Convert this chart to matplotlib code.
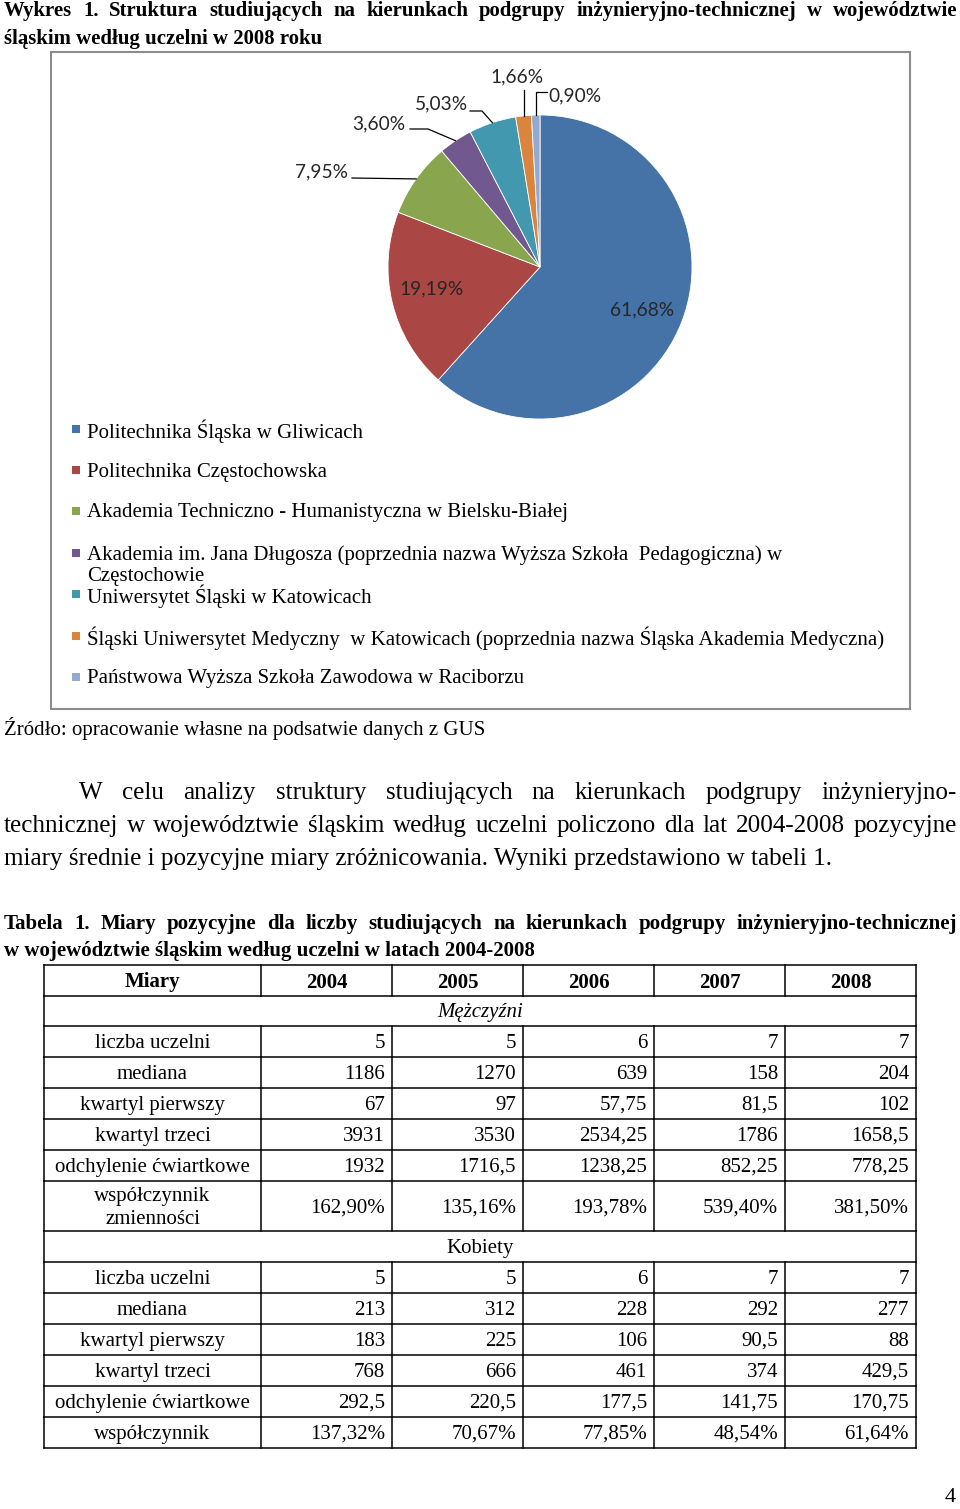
import matplotlib
matplotlib.use('Agg')
import matplotlib.pyplot as plt
from matplotlib.patches import Rectangle
import numpy as np

W, H = 960, 1509
SERIF = 'Liberation Serif'
SANS = 'Lato'
DY = 2  # small downward nudge so va='center' matches the visual text centre

# pie: structure of students by university, 2008 (%)
UCZELNIE = [
    'Politechnika Śląska w Gliwicach',
    'Politechnika Częstochowska',
    'Akademia Techniczno - Humanistyczna w Bielsku-Białej',
    'Akademia im. Jana Długosza (poprzednia nazwa Wyższa Szkoła  Pedagogiczna) w\nCzęstochowie',
    'Uniwersytet Śląski w Katowicach',
    'Śląski Uniwersytet Medyczny  w Katowicach (poprzednia nazwa Śląska Akademia Medyczna)',
    'Państwowa Wyższa Szkoła Zawodowa w Raciborzu',
]
UDZIALY = [61.68, 19.19, 7.95, 3.60, 5.03, 1.66, 0.90]
COLORS = ['#4572A7', '#AA4643', '#89A54E', '#71588F', '#4198AF', '#DB843D', '#93A9CF']

# table 1
LATA = ['2004', '2005', '2006', '2007', '2008']
MIARY_M = ['liczba uczelni', 'mediana', 'kwartyl pierwszy', 'kwartyl trzeci',
           'odchylenie ćwiartkowe', 'współczynnik\nzmienności']
MIARY_K = ['liczba uczelni', 'mediana', 'kwartyl pierwszy', 'kwartyl trzeci',
           'odchylenie ćwiartkowe', 'współczynnik']
liczba_m = [5, 5, 6, 7, 7]
mediana_m = [1186, 1270, 639, 158, 204]
q1_m = [67, 97, 57.75, 81.5, 102]
q3_m = [3931, 3530, 2534.25, 1786, 1658.5]
odch_m = [1932, 1716.5, 1238.25, 852.25, 778.25]
wsp_m = [162.90, 135.16, 193.78, 539.40, 381.50]
liczba_k = [5, 5, 6, 7, 7]
mediana_k = [213, 312, 228, 292, 277]
q1_k = [183, 225, 106, 90.5, 88]
q3_k = [768, 666, 461, 374, 429.5]
odch_k = [292.5, 220.5, 177.5, 141.75, 170.75]
wsp_k = [137.32, 70.67, 77.85, 48.54, 61.64]


def num(v):
    return f"{v:g}".replace('.', ',')


def pct(v):
    return f"{v:.2f}%".replace('.', ',')


fig = plt.figure(figsize=(W / 100, H / 100), dpi=100)
ax = fig.add_axes([0, 0, 1, 1], zorder=2)
ax.set_xlim(0, W)
ax.set_ylim(H, 0)
ax.axis('off')
ax.patch.set_visible(False)
R = fig.canvas.get_renderer()


def fit(t, width):
    w = t.get_window_extent(R).width
    t.set_fontsize(t.get_fontsize() * width / w)
    return t.get_fontsize()


def justify(words, y, x0, x1, size, **kw):
    texts = [ax.text(0, y + DY, w, fontsize=size, va='center', ha='left', family=SERIF, **kw)
             for w in words.split()]
    widths = [t.get_window_extent(R).width for t in texts]
    gap = (x1 - x0 - sum(widths)) / (len(texts) - 1)
    x = x0
    for t, w in zip(texts, widths):
        t.set_x(x)
        x += w + gap


# title
t = ax.text(4, 37 + DY, 'śląskim według uczelni w 2008 roku', fontsize=14, weight='bold',
            family=SERIF, va='center')
fs = fit(t, 319)
justify('Wykres 1. Struktura studiujących na kierunkach podgrupy inżynieryjno-technicznej w województwie',
        9, 4, 957, fs, weight='bold')

# chart frame
ax.add_patch(Rectangle((51, 52), 859, 657, fill=False, edgecolor='#8c8c8c', lw=1.5))

# pie
CX, CY, RAD = 540, 267, 152
pax = fig.add_axes([(CX - RAD) / W, 1 - (CY + RAD) / H, 2 * RAD / W, 2 * RAD / H], zorder=1)
pax.pie(UDZIALY, colors=COLORS, startangle=90, counterclock=False,
        wedgeprops=dict(edgecolor='white', linewidth=0.6))
pax.set_xlim(-1, 1)
pax.set_ylim(-1, 1)
pax.axis('off')

total = sum(UDZIALY)
cum = np.cumsum([0] + UDZIALY[:-1])
anchors = []
for c, v in zip(cum, UDZIALY):
    th = np.deg2rad(90 - 360 * (c + v / 2) / total)
    anchors.append((CX + RAD * np.cos(th), CY - RAD * np.sin(th)))

t = ax.text(642, 310, pct(UDZIALY[0]), family=SANS, fontsize=12, ha='center', va='center',
            color='#262626')
lfs = fit(t, 64)
label_pos = [(642, 310), (432, 289), (322, 172), (379, 124), (441, 104), (517, 77), (575, 96)]
for i, (x, y) in enumerate(label_pos[1:], start=1):
    ax.text(x, y, pct(UDZIALY[i]), family=SANS, fontsize=lfs, ha='center', va='center',
            color='#262626')

ax_, ay_ = anchors[2]
ax.plot([352, ax_], [178, ay_], color='black', lw=0.9)
ax_, ay_ = anchors[3]
ax.plot([410, 428, ax_], [129, 129, ay_], color='black', lw=0.9)
ax_, ay_ = anchors[4]
ax.plot([470, 482, ax_], [111, 111, ay_], color='black', lw=0.9)
ax_, ay_ = anchors[5]
ax.plot([ax_, ax_], [90, ay_], color='black', lw=0.9)
ax_, ay_ = anchors[6]
ax.plot([547, ax_, ax_], [92, 92, ay_], color='black', lw=0.9)

# legend
leg_y = [429, 470, 511, 553, 594, 636, 677]
t = ax.text(87, leg_y[5] + DY, UCZELNIE[5], family=SERIF, fontsize=15, va='center')
gfs = fit(t, 800)
for i, (name, y) in enumerate(zip(UCZELNIE, leg_y)):
    ax.add_patch(Rectangle((72, y - 4), 8, 8, color=COLORS[i], lw=0))
    if i == 5:
        continue
    for k, line in enumerate(name.split('\n')):
        ax.text(87, y + DY + 22 * k, line, family=SERIF, fontsize=gfs, va='center')

# source
t = ax.text(4, 726 + DY, 'Źródło: opracowanie własne na podsatwie danych z GUS', family=SERIF,
            fontsize=15, va='center')
fit(t, 482)

# paragraph
t = ax.text(4, 857 + DY, 'miary średnie i pozycyjne miary zróżnicowania. Wyniki przedstawiono w tabeli 1.',
            family=SERIF, fontsize=16, va='center')
pfs = fit(t, 832)
justify('W celu analizy struktury studiujących na kierunkach podgrupy inżynieryjno-', 791, 79, 957, pfs)
justify('technicznej w województwie śląskim według uczelni policzono dla lat 2004-2008 pozycyjne',
        824, 4, 957, pfs)

# table caption
t = ax.text(4, 949 + DY, 'w województwie śląskim według uczelni w latach 2004-2008', family=SERIF,
            fontsize=14, weight='bold', va='center')
cfs = fit(t, 534)
justify('Tabela 1. Miary pozycyjne dla liczby studiujących na kierunkach podgrupy inżynieryjno-technicznej',
        922, 4, 957, cfs, weight='bold')

# table
COLS = [44, 261, 392, 523, 654, 785, 916]
ROW_H = [31, 30, 31, 31, 31, 31, 31, 50, 31, 31, 31, 31, 31, 31, 31]
edges = list(np.cumsum([965] + ROW_H))

t = ax.text(152, 0, 'odchylenie ćwiartkowe', family=SERIF, fontsize=15, va='center')
tfs = fit(t, 195)
t.remove()

rows = [('Miary', LATA, 'header')]
rows.append(('Mężczyźni', None, 'section'))
for name, vals in zip(MIARY_M, [liczba_m, mediana_m, q1_m, q3_m, odch_m]):
    rows.append((name, [num(v) for v in vals], 'data'))
rows.append((MIARY_M[5], [pct(v) for v in wsp_m], 'data'))
rows.append(('Kobiety', None, 'section'))
for name, vals in zip(MIARY_K, [liczba_k, mediana_k, q1_k, q3_k, odch_k]):
    rows.append((name, [num(v) for v in vals], 'data'))
rows.append((MIARY_K[5], [pct(v) for v in wsp_k], 'data'))

for e in edges:
    ax.plot([COLS[0], COLS[-1]], [e, e], color='black', lw=1.1)
for r, (name, vals, kind) in enumerate(rows):
    y0, y1 = edges[r], edges[r + 1]
    yc = (y0 + y1) / 2 + DY
    ax.plot([COLS[0], COLS[0]], [y0, y1], color='black', lw=1.1)
    ax.plot([COLS[-1], COLS[-1]], [y0, y1], color='black', lw=1.1)
    if kind == 'section':
        ax.text((COLS[0] + COLS[-1]) / 2, yc, name, family=SERIF, fontsize=tfs, ha='center',
                va='center', style='italic' if name == 'Mężczyźni' else 'normal')
        continue
    for c in COLS[1:-1]:
        ax.plot([c, c], [y0, y1], color='black', lw=1.1)
    lines = name.split('\n')
    for k, line in enumerate(lines):
        ax.text((COLS[0] + COLS[1]) / 2, yc + (k - (len(lines) - 1) / 2) * 23, line,
                family=SERIF, fontsize=tfs, ha='center', va='center',
                weight='bold' if kind == 'header' else 'normal')
    for j, v in enumerate(vals):
        if kind == 'header':
            ax.text((COLS[j + 1] + COLS[j + 2]) / 2, yc, v, family=SERIF, fontsize=tfs,
                    ha='center', va='center', weight='bold')
        else:
            ax.text(COLS[j + 2] - 7, yc, v, family=SERIF, fontsize=tfs, ha='right', va='center')

# page number
ax.text(950, 1497, '4', family=SERIF, fontsize=16, ha='center', va='center')

fig.savefig('out.png', dpi=100)
